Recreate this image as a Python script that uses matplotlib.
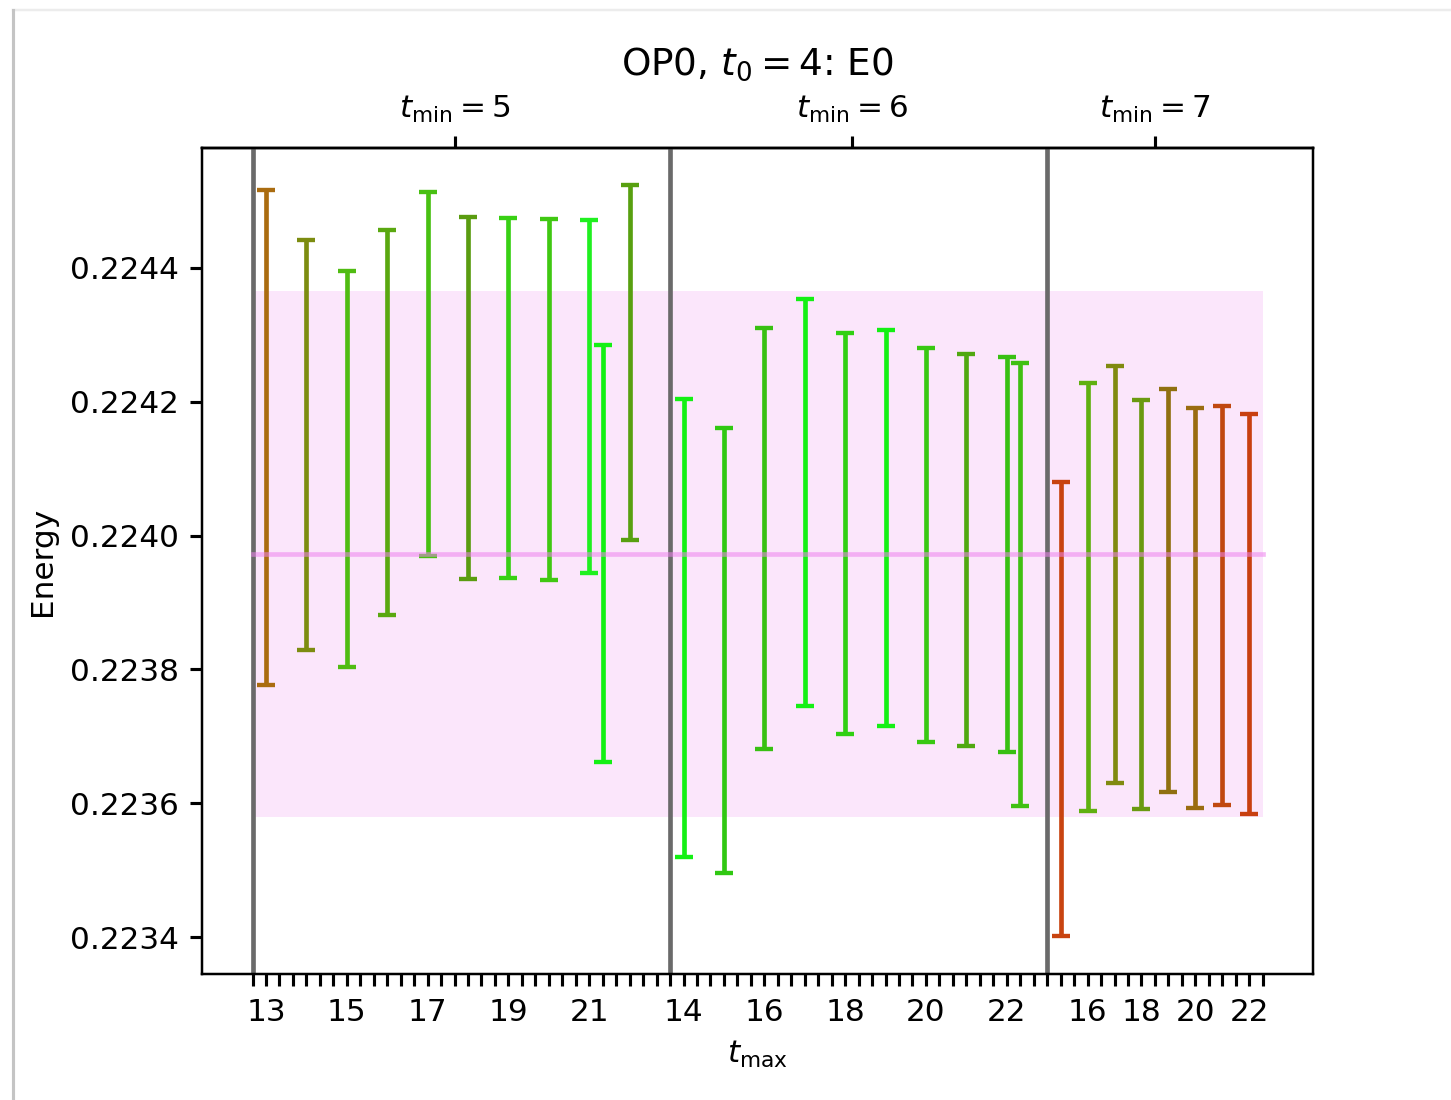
import numpy as np
import matplotlib
matplotlib.use('Agg')
import matplotlib.pyplot as plt
from matplotlib.lines import Line2D
from matplotlib.ticker import FormatStrFormatter

##### fit results #####
tmin_list = [5, 6, 7]

# tmin = 5
tmax_5 = [13, 14, 15, 16, 17, 18, 19, 20, 21, 22]
E_5 = [0.2241465, 0.224135, 0.2240995, 0.224169, 0.224241,
       0.2242055, 0.224206, 0.2242035, 0.224208, 0.2242585]
dE_5 = [0.0003695, 0.000306, 0.0002955, 0.000288, 0.000272,
        0.0002705, 0.000269, 0.0002695, 0.000264, 0.0002645]
col_5 = ['#aa6c10', '#7c8c10', '#50bc12', '#5aa810', '#48c012',
         '#5a9c10', '#38d014', '#40c812', '#20f020', '#58a010']
# second fit at same tmax
tmax_5b = [21]
E_5b = [0.2239735]
dE_5b = [0.0003115]
col_5b = ['#14f014']
lab_5 = [13, 15, 17, 19, 21]

# tmin = 6
tmax_6 = [14, 15, 16, 17, 18, 19, 20, 21, 22]
E_6 = [0.223862, 0.223828, 0.2239955, 0.2240495, 0.2240025,
       0.224011, 0.2239855, 0.223978, 0.2239715]
dE_6 = [0.000342, 0.000332, 0.0003145, 0.0003035, 0.0002995,
        0.000296, 0.0002945, 0.000293, 0.0002945]
col_6 = ['#14f014', '#30c812', '#38c012', '#14f014', '#30d012',
         '#14f014', '#38c812', '#50a810', '#38c012']
tmax_6b = [22]
E_6b = [0.2239265]
dE_6b = [0.0003305]
col_6b = ['#40c012']
lab_6 = [14, 16, 18, 20, 22]

# tmin = 7
tmax_7 = [15, 16, 17, 18, 19, 20, 21, 22]
E_7 = [0.2237405, 0.223908, 0.223942, 0.223897, 0.223918,
       0.223892, 0.223895, 0.2238825]
dE_7 = [0.0003395, 0.00032, 0.000311, 0.000306, 0.000301,
        0.000299, 0.000298, 0.0002985]
col_7 = ['#c84410', '#60b010', '#808a10', '#6a9a10', '#907010',
         '#9a6c10', '#c04810', '#c84010']
tmax_7b = []
E_7b = []
dE_7b = []
col_7b = []
lab_7 = [16, 18, 20, 22]

# averaged result
E_avg = 0.2239725
dE_avg = 0.0003935

groups = [
    (tmax_5, E_5, dE_5, col_5, tmax_5b, E_5b, dE_5b, col_5b, lab_5),
    (tmax_6, E_6, dE_6, col_6, tmax_6b, E_6b, dE_6b, col_6b, lab_6),
    (tmax_7, E_7, dE_7, col_7, tmax_7b, E_7b, dE_7b, col_7b, lab_7),
]

fig = plt.figure(figsize=(1451.2 / 224, 1100.2 / 224), dpi=224)
ax = fig.add_axes([0.1392, 0.1145, 0.7657, 0.7509])

start = 0
tick_labels = {}
mids = []
for (tm, E, dE, col, tmb, Eb, dEb, colb, lab) in groups:
    slot = 3 if len(tmb) > 0 else 2
    ax.axvline(start, color='#6a6a6a', lw=1.5, zorder=1)
    for i, t in enumerate(tm):
        x = start + 1 + slot * i
        ax.errorbar(x, E[i], yerr=dE[i], fmt='none', ecolor=col[i],
                    elinewidth=1.5, capsize=3, capthick=1.4, zorder=3)
        if t in lab:
            tick_labels[x] = str(t)
    for j, t in enumerate(tmb):
        x = start + 1 + slot * tm.index(t) + 1
        ax.errorbar(x, Eb[j], yerr=dEb[j], fmt='none', ecolor=colb[j],
                    elinewidth=1.5, capsize=3, capthick=1.4, zorder=3)
    end = start + slot * len(tm)
    mids.append((start + end) / 2)
    start = end + 1

last = start - 1
ax.fill_between([0, last], E_avg - dE_avg, E_avg + dE_avg,
                color='violet', alpha=0.2, lw=0, zorder=0)
ax.plot([0, last], [E_avg, E_avg], color='violet', alpha=0.55, lw=1.5, zorder=4)

xt = np.arange(0, last + 1)
ax.set_xticks(xt)
ax.set_xticklabels([tick_labels.get(x, '') for x in xt])
ax.yaxis.set_major_formatter(FormatStrFormatter('%.4f'))
ax.tick_params(width=1.0, length=4)

sec = ax.secondary_xaxis('top')
sec.set_xticks(mids)
sec.set_xticklabels([r'$t_{\mathrm{min}} = %d$' % t for t in tmin_list])
sec.tick_params(width=1.0, length=4)

ax.set_title(r'OP0, $t_0 = 4$: E0', fontsize=12)
ax.set_ylabel('Energy')
ax.set_xlabel(r'$t_{\mathrm{max}}$')

# screenshot frame
fig.add_artist(Line2D([13 / 1451, 1], [1 - 10 / 1100, 1 - 10 / 1100],
                      transform=fig.transFigure, color='#ececec', lw=0.8))
fig.add_artist(Line2D([13 / 1451, 13 / 1451], [0, 1 - 10 / 1100],
                      transform=fig.transFigure, color='#c4c4c4', lw=1.0))

fig.savefig('out.png', dpi=224)
